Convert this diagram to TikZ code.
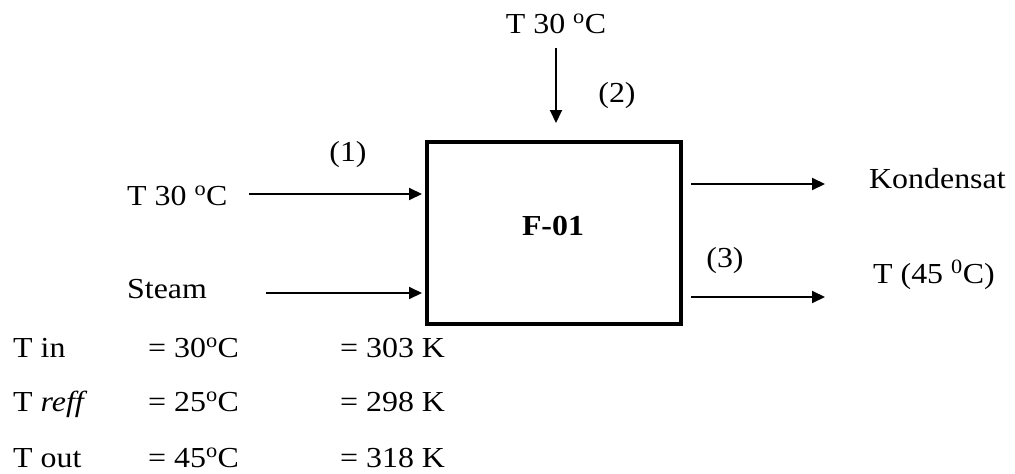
\documentclass[tikz,border=0pt]{standalone}
\usepackage{fontspec}
\setmainfont[FakeStretch=1.1]{Liberation Serif}
\usetikzlibrary{arrows.meta}
\begin{document}
\begin{tikzpicture}[x=1pt,y=-1pt,
  txt/.style={inner sep=0pt,font=\fontsize{29}{34}\selectfont},
  arr/.style={line width=2pt,-{Triangle[length=13pt,width=12pt]}},
  boxst/.style={draw,line width=4pt,minimum width=254pt,minimum height=182pt,inner sep=0pt}]
\useasboundingbox (0,0) rectangle (1015,474);
\fill[white] (0,0) rectangle (1015,474);
% box
\node[boxst] (F01) at (554,233) {};
\node[txt,font=\fontsize{29}{34}\selectfont\bfseries] (lab) at (553,226) {F-01};
% top input
\node[txt,anchor=base] (ttop) at (556,33) {T 30 \textsuperscript{o}C};
\coordinate (s2) at (556,48);
\draw[arr,shorten >=17pt] (s2) -- (s2 |- F01.north);
\node[txt] (n2) at (617,96) {(2)};
% left inputs
\node[txt,anchor=base west] (tleft) at (127,205) {T 30 \textsuperscript{o}C};
\node[txt] (n1) at (348,155) {(1)};
\coordinate (s1) at (249,194);
\draw[arr,shorten >=3pt] (s1) -- (s1 -| F01.west);
\node[txt,anchor=base west] (steam) at (127,298) {Steam};
\coordinate (s3) at (266,293);
\draw[arr,shorten >=3pt] (s3) -- (s3 -| F01.west);
% right outputs
\coordinate (e1) at (825,184);
\draw[arr,shorten <=8pt] (e1 -| F01.east) -- (e1);
\node[txt,anchor=base west] (kond) at (869,188) {Kondensat};
\coordinate (e2) at (825,297);
\draw[arr,shorten <=8pt] (e2 -| F01.east) -- (e2);
\node[txt] (n3) at (725,261) {(3)};
\node[txt,anchor=base west] (tout) at (873,283) {T (45 \textsuperscript{0}C)};
% table
\node[txt,anchor=base west] (r1a) at (13,357) {T in};
\node[txt,anchor=base west] (r1b) at (148,357) {= 30\textsuperscript{o}C};
\node[txt,anchor=base west] (r1c) at (340,357) {= 303 K};
\node[txt,anchor=base west] (r2a) at (13,411) {T \textit{reff}};
\node[txt,anchor=base west] (r2b) at (148,411) {= 25\textsuperscript{o}C};
\node[txt,anchor=base west] (r2c) at (340,411) {= 298 K};
\node[txt,anchor=base west] (r3a) at (13,467) {T out};
\node[txt,anchor=base west] (r3b) at (148,467) {= 45\textsuperscript{o}C};
\node[txt,anchor=base west] (r3c) at (340,467) {= 318 K};
\end{tikzpicture}
\end{document}
